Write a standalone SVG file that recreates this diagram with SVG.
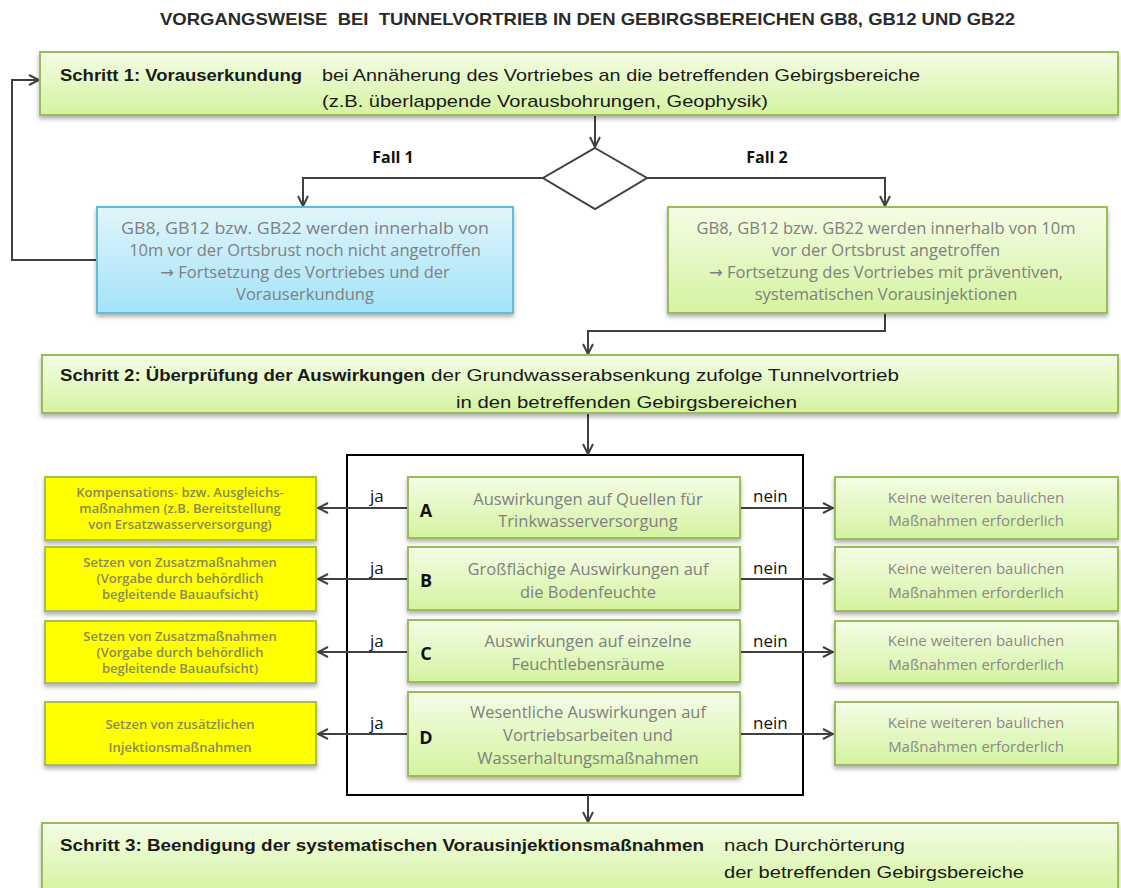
<svg xmlns="http://www.w3.org/2000/svg" width="1121" height="888" viewBox="0 0 1121 888">
<style>
.bg{fill:#ffffff}
.green{fill:url(#gGreen);stroke:#9bbb59;stroke-width:2;filter:url(#sh)}
.blue{fill:url(#gBlue);stroke:#62bcd8;stroke-width:2;filter:url(#sh)}
.yellow{fill:#ffff00;stroke:#a9bd55;stroke-width:2;filter:url(#sh)}
.con{fill:none;stroke:#404040;stroke-width:2}
.frame{fill:none;stroke:#000;stroke-width:2}
.title{font-family:"Liberation Sans",Arial,sans-serif;font-size:17px;font-weight:bold;fill:#2a2a2a;white-space:pre}
.step{font-family:"Liberation Sans",Arial,sans-serif;font-size:17px;fill:#1a1a1a}
.b{font-weight:bold}
.body{font-family:"Open Sans","DejaVu Sans",sans-serif;font-size:16.5px;fill:#808080;text-anchor:middle}
.ybody{font-family:"Open Sans","DejaVu Sans",sans-serif;font-size:13px;fill:#8a8a5a;text-anchor:middle;font-weight:600}
.rbody{font-family:"Open Sans","DejaVu Sans",sans-serif;font-size:15px;fill:#8a8a8a;text-anchor:middle}
.lbl{font-family:"Open Sans","DejaVu Sans",sans-serif;font-size:17px;fill:#111}
.fall{font-family:"Open Sans","DejaVu Sans",sans-serif;font-size:16px;font-weight:bold;fill:#111;text-anchor:middle}
.letter{font-family:"Open Sans","DejaVu Sans",sans-serif;font-size:18px;font-weight:bold;fill:#111;text-anchor:middle}
</style>
<defs>
<linearGradient id="gGreen" x1="0" y1="0" x2="0" y2="1">
<stop offset="0" stop-color="#f4fde6"/>
<stop offset="1" stop-color="#d4f3a0"/>
</linearGradient>
<linearGradient id="gBlue" x1="0" y1="0" x2="0" y2="1">
<stop offset="0" stop-color="#e2f5fb"/>
<stop offset="1" stop-color="#a2e3f8"/>
</linearGradient>
<filter id="sh" x="-5%" y="-20%" width="110%" height="150%">
<feDropShadow dx="0" dy="3" stdDeviation="2" flood-color="#000" flood-opacity="0.3"/>
</filter>
<marker id="arr" viewBox="0 0 12 12" refX="11" refY="6" markerWidth="12" markerHeight="12" orient="auto" markerUnits="userSpaceOnUse">
<path d="M1,1 L11,6 L1,11" fill="none" stroke="#404040" stroke-width="2"/>
</marker>
</defs>
<rect class="bg" x="0" y="0" width="1121" height="888"/>

<text class="title" x="160" y="25" textLength="855" lengthAdjust="spacingAndGlyphs" xml:space="preserve">VORGANGSWEISE  BEI  TUNNELVORTRIEB IN DEN GEBIRGSBEREICHEN GB8, GB12 UND GB22</text>

<rect id="frame" class="frame" x="347" y="455" width="456" height="340"/>

<g id="connectors">
<path class="con" d="M97,260 H12 V80 H39" marker-end="url(#arr)"/>
<path class="con" d="M595,115 V147" marker-end="url(#arr)"/>
<path class="con" d="M543,178 H303 V206" marker-end="url(#arr)"/>
<path class="con" d="M647,178 H885 V206" marker-end="url(#arr)"/>
<path class="con" d="M885,313 V331 H588 V354" marker-end="url(#arr)"/>
<path class="con" d="M588,413 V454" marker-end="url(#arr)"/>
<path class="con" d="M588,795 V822" marker-end="url(#arr)"/>
<path class="con" d="M408,508 H318" marker-end="url(#arr)"/>
<path class="con" d="M408,579 H318" marker-end="url(#arr)"/>
<path class="con" d="M408,652 H318" marker-end="url(#arr)"/>
<path class="con" d="M408,734 H318" marker-end="url(#arr)"/>
<path class="con" d="M740,508 H833" marker-end="url(#arr)"/>
<path class="con" d="M740,579 H833" marker-end="url(#arr)"/>
<path class="con" d="M740,652 H833" marker-end="url(#arr)"/>
<path class="con" d="M740,734 H833" marker-end="url(#arr)"/>
<text class="fall" x="393" y="163">Fall 1</text>
<text class="fall" x="767" y="163">Fall 2</text>
<text class="lbl" x="370" y="502">ja</text>
<text class="lbl" x="370" y="574">ja</text>
<text class="lbl" x="370" y="647">ja</text>
<text class="lbl" x="370" y="729">ja</text>
<text class="lbl" x="753" y="502">nein</text>
<text class="lbl" x="753" y="574">nein</text>
<text class="lbl" x="753" y="647">nein</text>
<text class="lbl" x="753" y="729">nein</text>
</g>

<g id="schritt1">
<rect class="green" x="40" y="52" width="1078" height="63"/>
<text class="step b" x="60" y="81" textLength="242" lengthAdjust="spacingAndGlyphs">Schritt 1: Vorauserkundung</text>
<text class="step" x="322" y="81" textLength="598" lengthAdjust="spacingAndGlyphs">bei Annäherung des Vortriebes an die betreffenden Gebirgsbereiche</text>
<text class="step" x="322" y="107" textLength="446" lengthAdjust="spacingAndGlyphs">(z.B. überlappende Vorausbohrungen, Geophysik)</text>
</g>

<g id="decision">
<polygon points="595,148 647,178 595,209 543,178" fill="#ffffff" stroke="#404040" stroke-width="2"/>
</g>

<g id="fall1">
<rect class="blue" x="97" y="207" width="416" height="106"/>
<text class="body" x="305" y="234" textLength="368" lengthAdjust="spacingAndGlyphs">GB8, GB12 bzw. GB22 werden innerhalb von</text>
<text class="body" x="305" y="256">10m vor der Ortsbrust noch nicht angetroffen</text>
<text class="body" x="305" y="278">→ Fortsetzung des Vortriebes und der</text>
<text class="body" x="305" y="300">Vorauserkundung</text>
</g>

<g id="fall2">
<rect class="green" x="668" y="207" width="439" height="106"/>
<text class="body" x="886" y="234">GB8, GB12 bzw. GB22 werden innerhalb von 10m</text>
<text class="body" x="886" y="256">vor der Ortsbrust angetroffen</text>
<text class="body" x="886" y="278">→ Fortsetzung des Vortriebes mit präventiven,</text>
<text class="body" x="886" y="300">systematischen Vorausinjektionen</text>
</g>

<g id="schritt2">
<rect class="green" x="42" y="355" width="1076" height="58"/>
<text class="step b" x="60" y="381" textLength="365" lengthAdjust="spacingAndGlyphs">Schritt 2: Überprüfung der Auswirkungen</text>
<text class="step" x="431" y="381" textLength="468" lengthAdjust="spacingAndGlyphs">der Grundwasserabsenkung zufolge Tunnelvortrieb</text>
<text class="step" x="456" y="408" textLength="341" lengthAdjust="spacingAndGlyphs">in den betreffenden Gebirgsbereichen</text>
</g>

<g id="boxA">
<rect class="green" x="408" y="477" width="332" height="61"/>
<text class="letter" x="426" y="517">A</text>
<text class="body" x="588" y="505">Auswirkungen auf Quellen für</text>
<text class="body" x="588" y="527">Trinkwasserversorgung</text>
</g>
<g id="boxB">
<rect class="green" x="408" y="547" width="332" height="63"/>
<text class="letter" x="426" y="587">B</text>
<text class="body" x="588" y="575">Großflächige Auswirkungen auf</text>
<text class="body" x="588" y="598">die Bodenfeuchte</text>
</g>
<g id="boxC">
<rect class="green" x="408" y="620" width="332" height="62"/>
<text class="letter" x="426" y="660">C</text>
<text class="body" x="588" y="647">Auswirkungen auf einzelne</text>
<text class="body" x="588" y="670">Feuchtlebensräume</text>
</g>
<g id="boxD">
<rect class="green" x="408" y="692" width="332" height="84"/>
<text class="letter" x="426" y="744">D</text>
<text class="body" x="588" y="718">Wesentliche Auswirkungen auf</text>
<text class="body" x="588" y="741">Vortriebsarbeiten und</text>
<text class="body" x="588" y="764">Wasserhaltungsmaßnahmen</text>
</g>

<g id="yellow1">
<rect class="yellow" x="45" y="477" width="271" height="63"/>
<text class="ybody" x="180" y="497">Kompensations- bzw. Ausgleichs-</text>
<text class="ybody" x="180" y="513">maßnahmen (z.B. Bereitstellung</text>
<text class="ybody" x="180" y="529">von Ersatzwasserversorgung)</text>
</g>
<g id="yellow2">
<rect class="yellow" x="45" y="547" width="271" height="64"/>
<text class="ybody" x="180" y="567">Setzen von Zusatzmaßnahmen</text>
<text class="ybody" x="180" y="583">(Vorgabe durch behördlich</text>
<text class="ybody" x="180" y="599">begleitende Bauaufsicht)</text>
</g>
<g id="yellow3">
<rect class="yellow" x="45" y="621" width="271" height="62"/>
<text class="ybody" x="180" y="641">Setzen von Zusatzmaßnahmen</text>
<text class="ybody" x="180" y="657">(Vorgabe durch behördlich</text>
<text class="ybody" x="180" y="673">begleitende Bauaufsicht)</text>
</g>
<g id="yellow4">
<rect class="yellow" x="45" y="702" width="271" height="63"/>
<text class="ybody" x="180" y="729">Setzen von zusätzlichen</text>
<text class="ybody" x="180" y="752">Injektionsmaßnahmen</text>
</g>

<g id="right1">
<rect class="green" x="835" y="477" width="283" height="62"/>
<text class="rbody" x="976" y="503">Keine weiteren baulichen</text>
<text class="rbody" x="976" y="526">Maßnahmen erforderlich</text>
</g>
<g id="right2">
<rect class="green" x="835" y="547" width="283" height="64"/>
<text class="rbody" x="976" y="574">Keine weiteren baulichen</text>
<text class="rbody" x="976" y="598">Maßnahmen erforderlich</text>
</g>
<g id="right3">
<rect class="green" x="835" y="621" width="283" height="62"/>
<text class="rbody" x="976" y="646">Keine weiteren baulichen</text>
<text class="rbody" x="976" y="670">Maßnahmen erforderlich</text>
</g>
<g id="right4">
<rect class="green" x="835" y="702" width="283" height="63"/>
<text class="rbody" x="976" y="728">Keine weiteren baulichen</text>
<text class="rbody" x="976" y="752">Maßnahmen erforderlich</text>
</g>

<g id="schritt3">
<rect class="green" x="42" y="823" width="1076" height="70"/>
<text class="step b" x="60" y="851" textLength="644" lengthAdjust="spacingAndGlyphs">Schritt 3: Beendigung der systematischen Vorausinjektionsmaßnahmen</text>
<text class="step" x="724" y="851" textLength="181" lengthAdjust="spacingAndGlyphs">nach Durchörterung</text>
<text class="step" x="724" y="878" textLength="300" lengthAdjust="spacingAndGlyphs">der betreffenden Gebirgsbereiche</text>
</g>
</svg>
